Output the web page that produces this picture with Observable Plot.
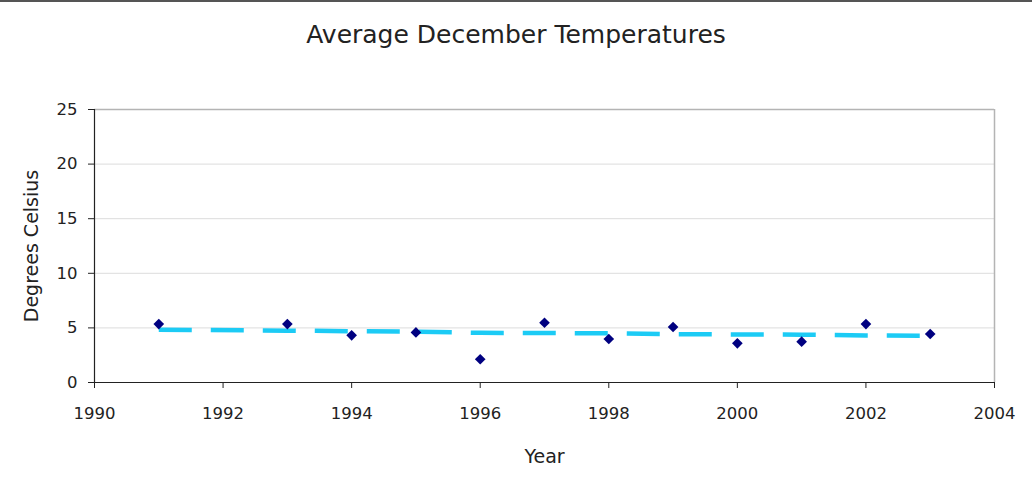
<!DOCTYPE html>
<html>
<head>
<meta charset="utf-8">
<script src="https://cdn.jsdelivr.net/npm/d3@7"></script>
<script src="https://cdn.jsdelivr.net/npm/@observablehq/plot@0.6"></script>
<style>
  html, body { margin: 0; padding: 0; background: #fff; }
  body { width: 1032px; height: 491px; overflow: hidden; border-top: 2px solid #555; box-sizing: border-box; }
  #title { height: 68px; line-height: 66px; text-align: center; font-family: "DejaVu Sans", sans-serif; font-size: 25px; color: #222; }
</style>
</head>
<body>
<div id="title">Average December Temperatures</div>
<div id="chart"></div>
<script>
const years = [1991, 1993, 1994, 1995, 1996, 1997, 1998, 1999, 2000, 2001, 2002, 2003];
const temps = [5.35, 5.35, 4.32, 4.59, 2.13, 5.47, 3.98, 5.08, 3.59, 3.74, 5.35, 4.44];
const trend = [4.84, 4.75, 4.70, 4.65, 4.55, 4.53, 4.50, 4.42, 4.40, 4.38, 4.30, 4.28];
const xTicks = [1990, 1992, 1994, 1996, 1998, 2000, 2002, 2004];
const yTicks = [0, 5, 10, 15, 20, 25];

const obs = years.map((y, i) => ({year: y, temp: temps[i]}));
const tr = years.map((y, i) => ({year: y, temp: trend[i]}));

const font = "DejaVu Sans, sans-serif";
const chart = Plot.plot({
  width: 1032,
  height: 421,
  marginTop: 39,
  marginLeft: 94,
  marginRight: 38,
  marginBottom: 109,
  style: {fontFamily: font, fontSize: "16px", color: "#222", background: "#fff"},
  x: {domain: [1990, 2004]},
  y: {domain: [0, 25]},
  marks: [
    Plot.gridY(yTicks, {stroke: "#dcdcdc", strokeOpacity: 1}),
    Plot.ruleY([25], {stroke: "#b4b4b4", strokeWidth: 1.5}),
    Plot.ruleX([2004], {stroke: "#b4b4b4", strokeWidth: 1.5}),
    Plot.axisX(xTicks, {tickSize: 6, tickPadding: 19, tickFormat: d => String(d), stroke: "#222", fontSize: 16.5, label: null}),
    Plot.axisX({ticks: [], label: "Year", labelAnchor: "center", labelArrow: "none", labelOffset: 80, fontSize: 19}),
    Plot.axisY(yTicks, {tickSize: 6, tickPadding: 11, stroke: "#222", fontSize: 16.5, label: null}),
    Plot.axisY({ticks: [], label: "Degrees Celsius", labelAnchor: "center", labelArrow: "none", labelOffset: 70, fontSize: 19}),
    Plot.ruleX([1990], {stroke: "#222", strokeWidth: 1.2}),
    Plot.ruleY([0], {stroke: "#222", strokeWidth: 1.2}),
    Plot.line(tr, {x: "year", y: "temp", stroke: "#1ccbf5", strokeWidth: 4.5, strokeDasharray: "33,19", strokeLinecap: "butt"}),
    Plot.dot(obs, {x: "year", y: "temp", symbol: "diamond2", r: 4.8, fill: "#000080", stroke: "none"})
  ]
});
document.getElementById("chart").appendChild(chart);
</script>
</body>
</html>
